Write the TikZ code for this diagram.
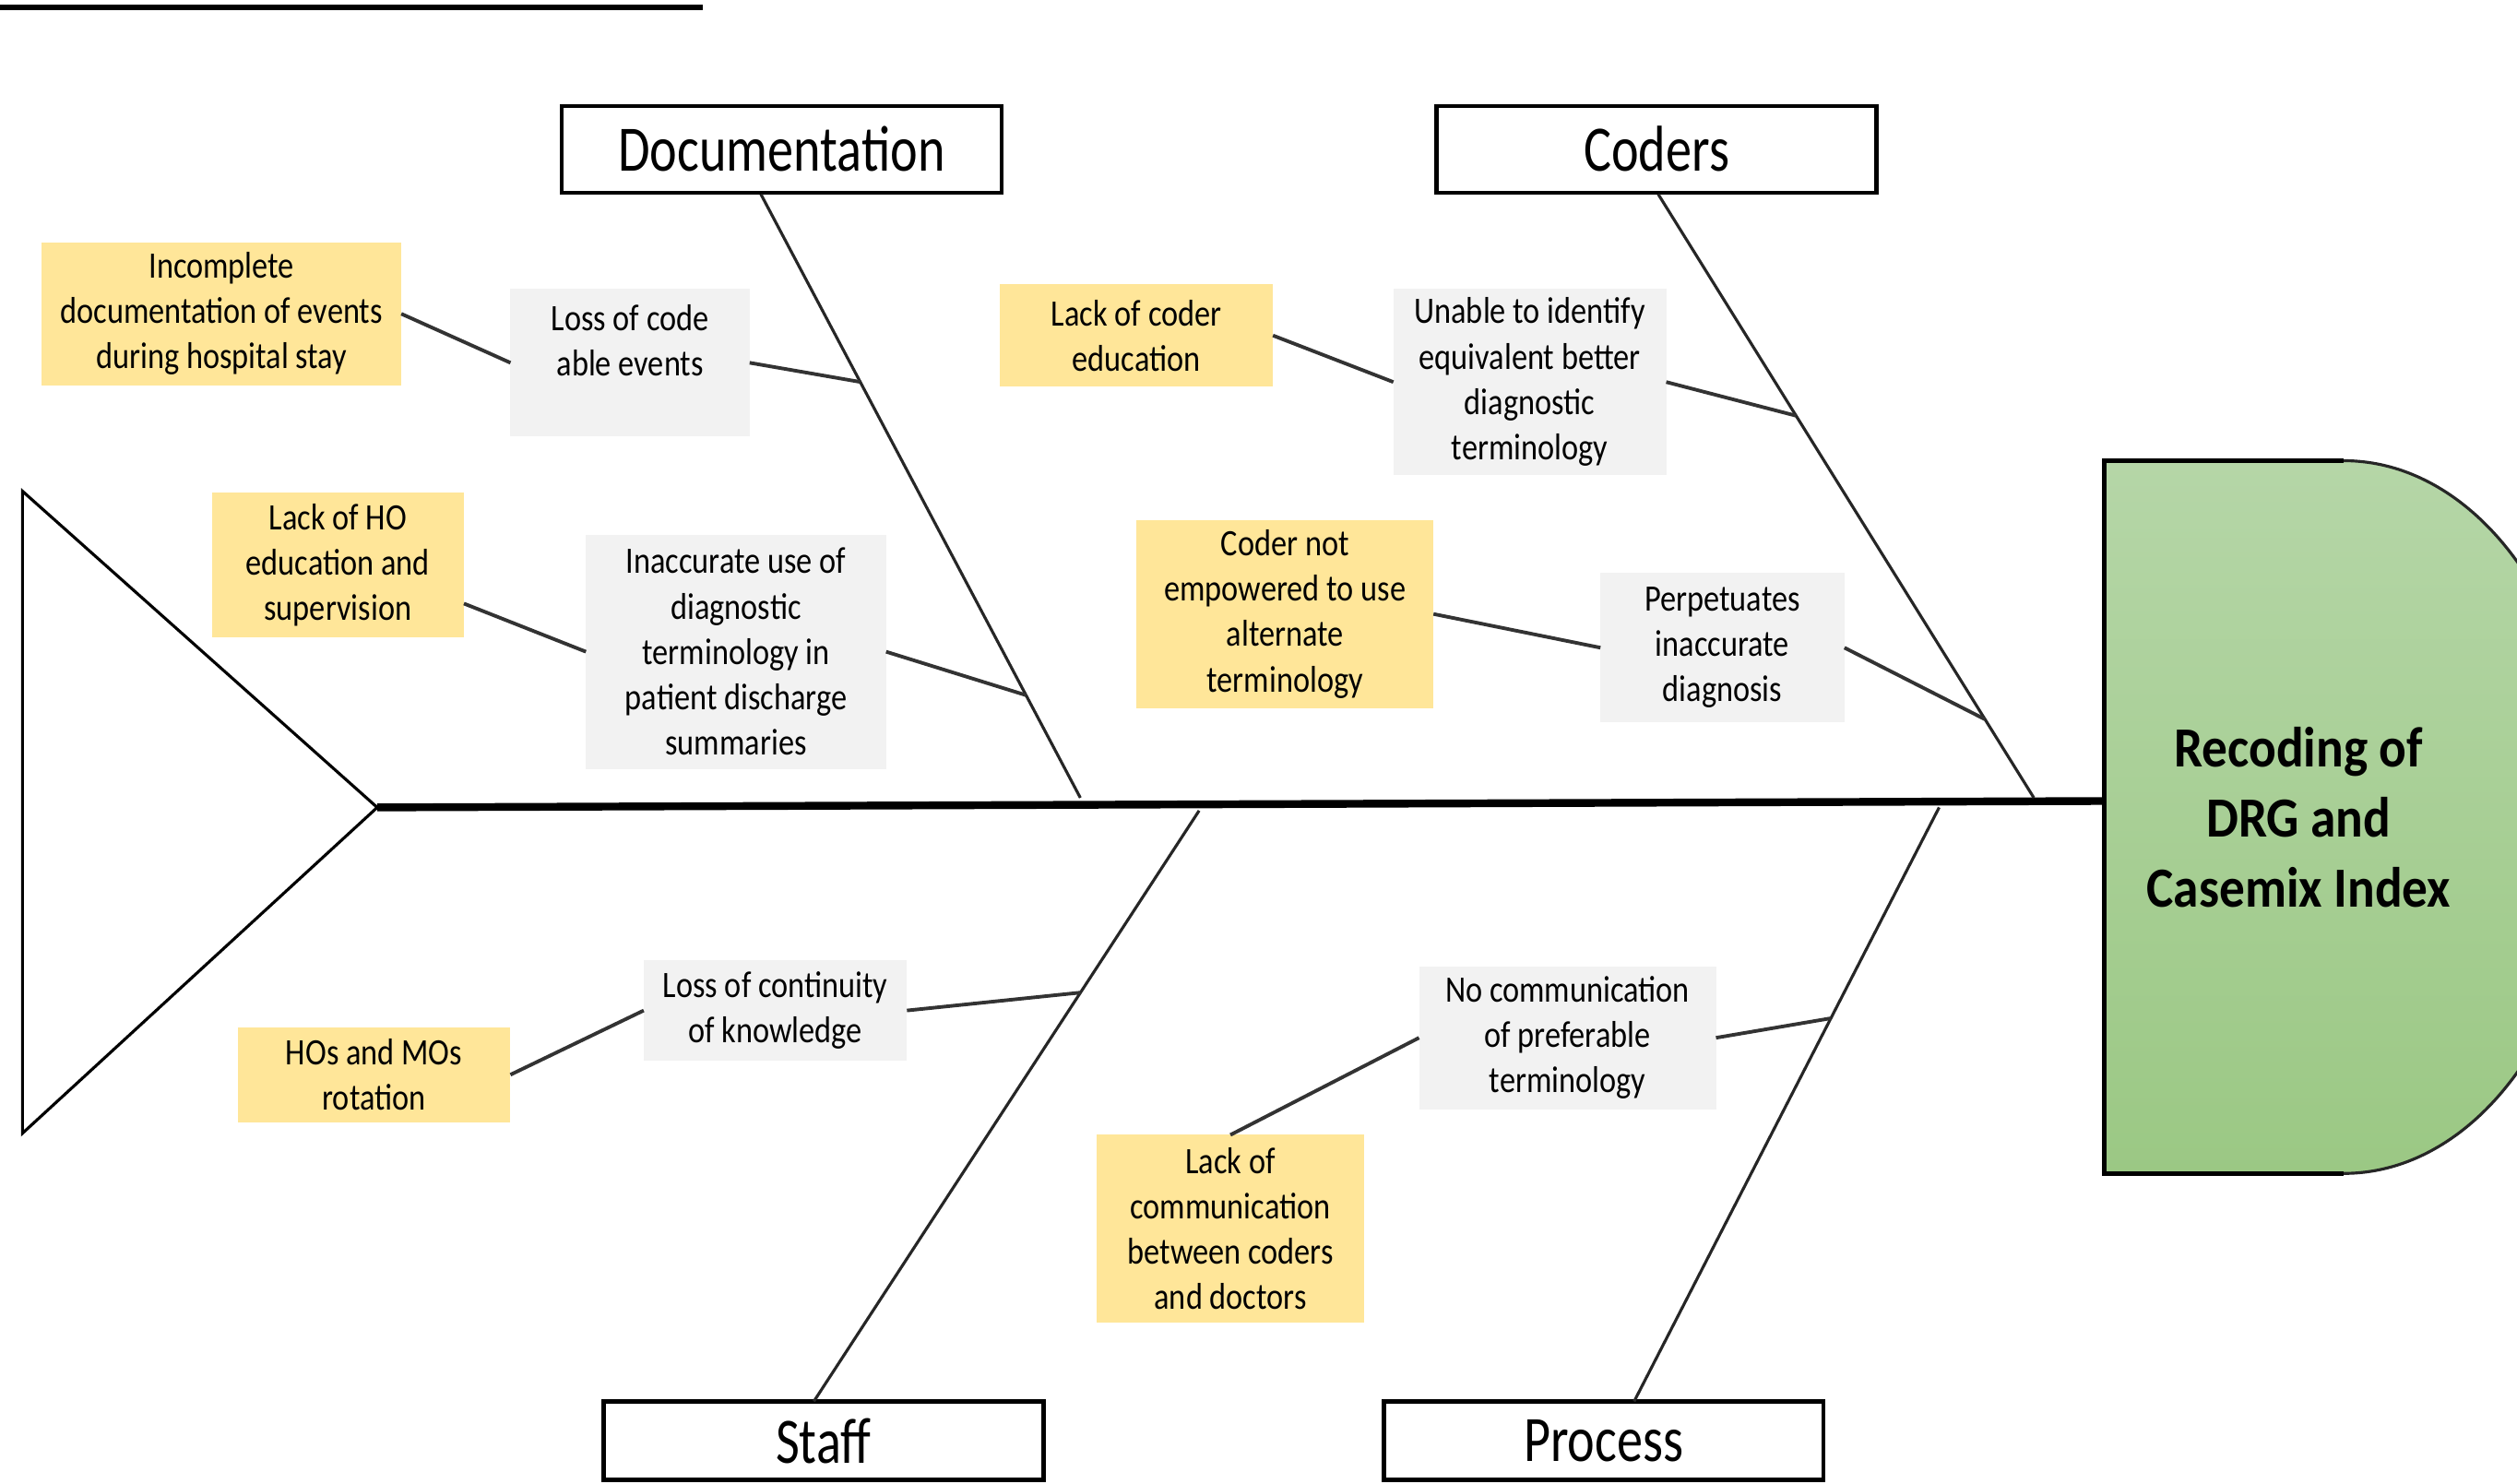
\documentclass[tikz,border=0pt]{standalone}
\usepackage{fontspec}
\setmainfont{Carlito}
\newfontfamily\condf[FakeStretch=0.85]{Carlito}
\newfontfamily\catf[FakeStretch=0.8]{Carlito}
\newfontfamily\headf[FakeStretch=0.9]{Carlito}
\usetikzlibrary{calc}
\definecolor{cyel}{HTML}{FFE699}
\definecolor{cgrey}{HTML}{F2F2F2}
\definecolor{gtop}{HTML}{B5D6A7}
\definecolor{gbot}{HTML}{9BC884}
\begin{document}
\begin{tikzpicture}[x=0.017404cm, y=-0.017404cm,
  wh/.style 2 args={minimum width=#1*0.017404cm, minimum height=#2*0.017404cm},
  subtext/.style={font=\condf\fontsize{11.5}{14}\selectfont, align=center, inner sep=0pt, outer sep=0pt},
  ybox/.style={subtext, fill=cyel},
  gbox/.style={subtext, fill=cgrey},
  catbox/.style={draw=black, line width=1.3pt, fill=white, inner sep=0pt, outer sep=0pt, font=\catf\fontsize{20}{24}\selectfont},
  bone/.style={line width=0.9pt, draw=black!85},
  twig/.style={line width=1.1pt, draw=black!80},
  spine/.style={line width=2.4pt, draw=black},
  tail/.style={line width=0.9pt, draw=black},
]
\clip (0,0) rectangle (1568,924);

% title underline (title text itself lies outside the picture)
\coordinate (tl1) at (0,4.5);
\coordinate (tl2) at (438,4.5);
\draw[line width=1.8pt] (tl1) -- (tl2);

% tail
\coordinate (tailA) at (14,306);
\coordinate (tailB) at (14,706);
\coordinate (tailT) at (235,503);
\draw[tail] (tailA) -- (tailT) -- (tailB) -- cycle;

% head
\coordinate (headW) at (1311,499);
\shade[top color=gtop, bottom color=gbot] (1311,287) -- (1460,287) arc[start angle=-90, end angle=90, x radius=155, y radius=222] -- (1311,731) -- cycle;
\draw[line width=0.9pt, draw=black!85] (1460,287) arc[start angle=-90, end angle=90, x radius=155, y radius=222];
\draw[line width=1.4pt] (1460,287) -- (1311,287) -- (1311,731) -- (1460,731);
\node[font=\headf\bfseries\fontsize{17.5}{21.6}\selectfont, align=center, inner sep=0pt] (head) at (1432,509) {Recoding of\\DRG and\\Casemix Index};

% spine
\draw[spine] (tailT) -- (headW);

% category boxes
\node[catbox, wh={274}{54}] (doc) at (487,93) {Documentation};
\node[catbox, wh={274}{54}] (cod) at (1032,93) {Coders};
\node[catbox, wh={274}{49}] (stf) at (513,897.5) {Staff};
\node[catbox, wh={274}{49}] (prc) at (999,897.5) {Process};

% bones
\coordinate (docS) at (474,121);
\coordinate (docJ) at (673,497);
\coordinate (codS) at (1033,121);
\coordinate (codJ) at (1267,497);
\coordinate (stfJ) at (747,505);
\coordinate (stfS) at (507,873);
\coordinate (prcJ) at (1208,503);
\coordinate (prcS) at (1018,873);
\draw[bone] (docS) -- (docJ);
\draw[bone] (codS) -- (codJ);
\draw[bone] (stfJ) -- (stfS);
\draw[bone] (prcJ) -- (prcS);

\coordinate (d1) at ($(docS)!0.311!(docJ)$);
\coordinate (d2) at ($(docS)!0.83!(docJ)$);
\coordinate (c1) at ($(codS)!0.367!(codJ)$);
\coordinate (c2) at ($(codS)!0.87!(codJ)$);
\coordinate (s1) at ($(stfJ)!0.308!(stfS)$);
\coordinate (p1) at ($(prcJ)!0.355!(prcS)$);

% cause boxes: Documentation
\node[ybox, wh={224}{89}] (inc) at (138,195.5) {Incomplete\\documentation of events\\during hospital stay};
\node[gbox, wh={149}{92}] (lce) at (392.5,226) {Loss of code\\able events\\\mbox{}};
\node[ybox, wh={157}{90}] (ho) at (210.5,352) {Lack of HO\\education and\\supervision};
\node[gbox, wh={187}{146}] (inac) at (458.5,406) {Inaccurate use of\\diagnostic\\terminology in\\patient discharge\\summaries};

% Coders
\node[ybox, wh={170}{64}] (lcod) at (708,209) {Lack of coder\\education};
\node[gbox, wh={170}{116}] (unab) at (953,238) {Unable to identify\\equivalent better\\diagnostic\\terminology};
\node[ybox, wh={185}{117}] (emp) at (800.5,382.5) {Coder not\\empowered to use\\alternate\\terminology};
\node[gbox, wh={152}{93}] (perp) at (1073,403.5) {Perpetuates\\inaccurate\\diagnosis};

% Staff
\node[gbox, wh={164}{63}] (cont) at (483,629.5) {Loss of continuity\\of knowledge};
\node[ybox, wh={170}{59}] (hos) at (233,669.5) {HOs and MOs\\rotation};

% Process
\node[gbox, wh={185}{89}] (ncom) at (976.5,646.5) {No communication\\of preferable\\terminology};
\node[ybox, wh={167}{117}] (lcom) at (766.5,765.5) {Lack of\\communication\\between coders\\and doctors};

% twigs
\draw[twig] (inc.east) -- (lce.west);
\draw[twig] (lce.east) -- (d1);
\draw[twig] ($(ho.east)+(0,24)$) -- (inac.west);
\draw[twig] (inac.east) -- (d2);
\draw[twig] (lcod.east) -- (unab.west);
\draw[twig] (unab.east) -- (c1);
\draw[twig] (emp.east) -- (perp.west);
\draw[twig] (perp.east) -- (c2);
\draw[twig] (hos.east) -- (cont.west);
\draw[twig] (cont.east) -- (s1);
\draw[twig] (lcom.north) -- (ncom.west);
\draw[twig] (ncom.east) -- (p1);
\end{tikzpicture}
\end{document}
